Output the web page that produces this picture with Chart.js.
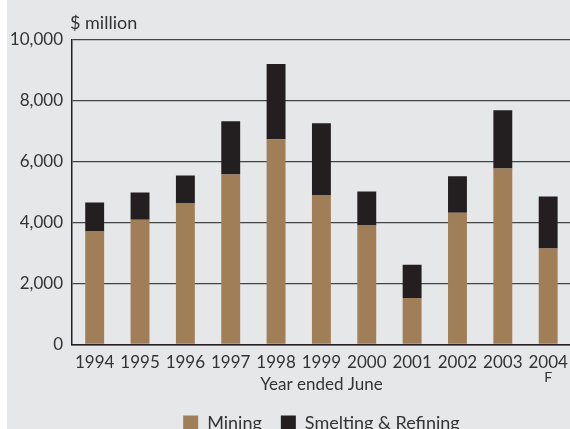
<!DOCTYPE html>
<html>
<head>
<meta charset="utf-8">
<script src="https://cdn.jsdelivr.net/npm/chart.js@4/dist/chart.umd.min.js"></script>
<style>
  html, body { margin: 0; padding: 0; background: #ffffff; overflow: hidden; width: 570px; height: 429px; }
  canvas { display: block; }
</style>
</head>
<body>
<canvas id="chart" width="576" height="442"></canvas>
<script>
// Mining industry output, $ million, by year ended June (2004 is a forecast)
const years = ['1994', '1995', '1996', '1997', '1998', '1999', '2000', '2001', '2002', '2003', '2004'];
const mining = [3700, 4090, 4620, 5570, 6730, 4880, 3900, 1520, 4320, 5770, 3140];
const smelting = [950, 890, 920, 1750, 2470, 2370, 1110, 1090, 1190, 1910, 1710];
const yTicks = [0, 2000, 4000, 6000, 8000, 10000];
const forecastYear = '2004';

const FONT = 'Lato, "Open Sans", sans-serif';
const TEXT = '#333333';

// Panel background with a thin white margin at the left edge
const panelBackground = {
  id: 'panelBackground',
  beforeDraw(chart) {
    const { ctx, width, height } = chart;
    ctx.save();
    ctx.fillStyle = '#e6e7e9';
    ctx.fillRect(7, 0, width - 7, height);
    ctx.restore();
  }
};

// Unit caption above the value axis and the forecast marker under the last year
const annotations = {
  id: 'annotations',
  afterDraw(chart) {
    const { ctx, chartArea, scales } = chart;
    ctx.save();
    ctx.fillStyle = TEXT;
    ctx.font = '18px ' + FONT;
    ctx.textAlign = 'left';
    ctx.textBaseline = 'alphabetic';
    ctx.fillText('$ million', chartArea.left - 2, 29);
    ctx.font = '14px ' + FONT;
    ctx.textAlign = 'center';
    ctx.fillText('F', scales.x.getPixelForValue(years.indexOf(forecastYear)), 382);
    ctx.restore();
  }
};

new Chart(document.getElementById('chart'), {
  type: 'bar',
  data: {
    labels: years,
    datasets: [
      { label: 'Mining', data: mining, backgroundColor: '#a07e57', borderWidth: 0 },
      { label: 'Smelting & Refining', data: smelting, backgroundColor: '#231f20', borderWidth: 0 }
    ]
  },
  options: {
    responsive: false,
    devicePixelRatio: 1,
    animation: false,
    layout: { padding: { top: 39.5, right: 2.4, bottom: 0, left: 0 } },
    datasets: { bar: { barPercentage: 0.417, categoryPercentage: 1 } },
    scales: {
      x: {
        stacked: true,
        grid: { display: false, drawTicks: false },
        border: { display: true, color: '#231f20', width: 1.5 },
        ticks: { color: TEXT, font: { family: FONT, size: 17 }, padding: 8, maxRotation: 0, autoSkip: false },
        title: { display: true, text: 'Year ended June', color: TEXT, font: { family: FONT, size: 17 }, padding: { top: 0, bottom: 0 } },
        afterFit(scale) { scale.height = 50.7; }
      },
      y: {
        stacked: true,
        min: 0,
        max: 10000,
        afterBuildTicks(scale) { scale.ticks = yTicks.map(v => ({ value: v })); },
        grid: { color: '#444444', lineWidth: 1.3, drawTicks: false },
        border: { display: true, color: '#231f20', width: 1.5 },
        ticks: {
          color: TEXT,
          font: { family: FONT, size: 17 },
          padding: 9,
          callback: v => v.toLocaleString('en-US')
        },
        afterFit(scale) { scale.width = 72; }
      }
    },
    plugins: {
      legend: {
        position: 'bottom',
        fullSize: false,
        labels: {
          color: TEXT,
          font: { family: FONT, size: 18 },
          boxWidth: 15,
          boxHeight: 15,
          padding: 19
        }
      },
      tooltip: { enabled: false }
    }
  },
  plugins: [panelBackground, annotations]
});
</script>
</body>
</html>
